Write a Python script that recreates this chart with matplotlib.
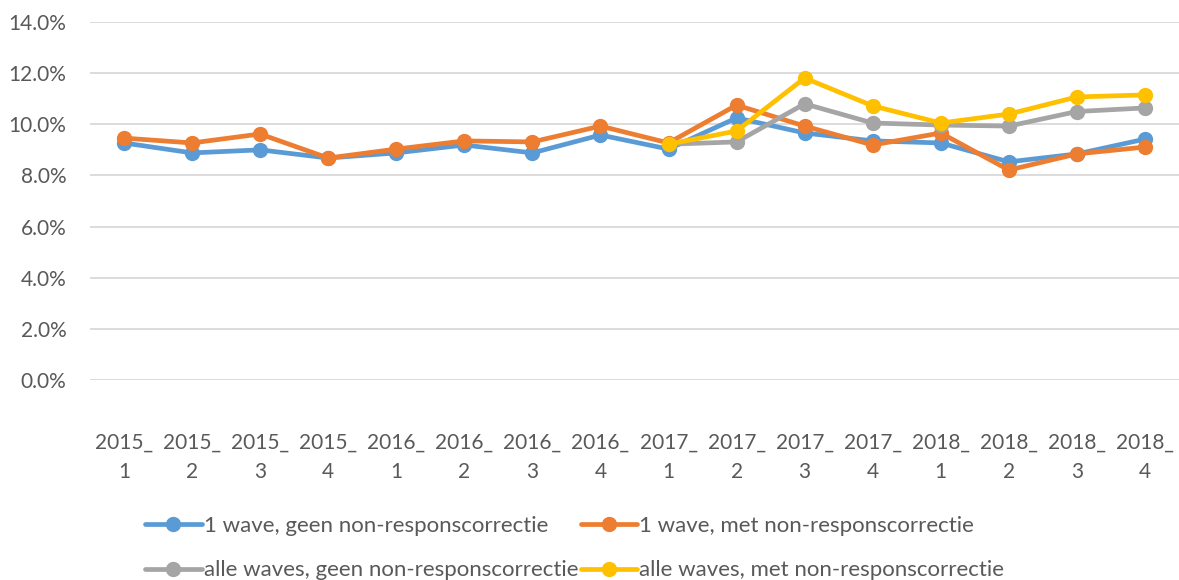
import numpy as np
import matplotlib.pyplot as plt
from matplotlib.ticker import FuncFormatter

plt.rcParams['font.family'] = ['Lato', 'DejaVu Sans']

# Kwartalen
quarters = ['2015_\n1', '2015_\n2', '2015_\n3', '2015_\n4',
            '2016_\n1', '2016_\n2', '2016_\n3', '2016_\n4',
            '2017_\n1', '2017_\n2', '2017_\n3', '2017_\n4',
            '2018_\n1', '2018_\n2', '2018_\n3', '2018_\n4']

# Percentages per reeks (alle waves pas vanaf 2017_1)
een_wave_geen = [9.27, 8.88, 9.00, 8.68, 8.88, 9.19, 8.88, 9.58,
                 9.03, 10.25, 9.66, 9.35, 9.27, 8.53, 8.84, 9.42]
een_wave_met = [9.46, 9.27, 9.62, 8.68, 9.03, 9.35, 9.31, 9.93,
                9.27, 10.75, 9.93, 9.19, 9.66, 8.21, 8.84, 9.11]
alle_waves_geen = [None] * 8 + [9.22, 9.31, 10.80, 10.05, 9.97, 9.93, 10.50, 10.64]
alle_waves_met = [None] * 8 + [9.22, 9.74, 11.81, 10.72, 10.05, 10.40, 11.07, 11.15]

series = [
    ('1 wave, geen non-responscorrectie', een_wave_geen, '#5B9BD5'),
    ('1 wave, met non-responscorrectie', een_wave_met, '#ED7D31'),
    ('alle waves, geen non-responscorrectie', alle_waves_geen, '#A5A5A5'),
    ('alle waves, met non-responscorrectie', alle_waves_met, '#FFC000'),
]

fig = plt.figure(figsize=(11.79, 5.8), dpi=100)
ax = fig.add_axes([0.0763, 0.345, 0.9237, 0.617])

x = np.arange(len(quarters))
for label, vals, color in series:
    y = np.array([np.nan if v is None else v for v in vals], dtype=float)
    ax.plot(x, y, color=color, lw=3.4, marker='o', markersize=10,
            solid_capstyle='round', label=label)

ax.set_xlim(-0.5, len(quarters) - 0.5)
ax.set_ylim(0, 14)
ax.set_yticks(np.arange(0, 14.1, 2))
ax.yaxis.set_major_formatter(FuncFormatter(lambda v, p: f'{v:.1f}%'))
ax.set_xticks(x)
ax.set_xticklabels(quarters, linespacing=1.6)

ax.grid(axis='y', color='#D9D9D9', lw=1.3)
ax.set_axisbelow(True)
for s in ax.spines.values():
    s.set_visible(False)
ax.tick_params(axis='both', length=0, colors='#595959', labelsize=15)
ax.tick_params(axis='x', pad=38)
ax.tick_params(axis='y', pad=17)

# legenda rijsgewijs: volgorde omzetten omdat matplotlib kolomsgewijs vult
handles, labels = ax.get_legend_handles_labels()
order = [0, 2, 1, 3]
fig.legend([handles[i] for i in order], [labels[i] for i in order],
           loc='lower left', bbox_to_anchor=(0.106, -0.035),
           ncol=2, frameon=False, fontsize=16, labelcolor='#595959',
           handlelength=2.55, handletextpad=0.1, columnspacing=0.1,
           labelspacing=1.1)

fig.savefig('out.png', dpi=100)
